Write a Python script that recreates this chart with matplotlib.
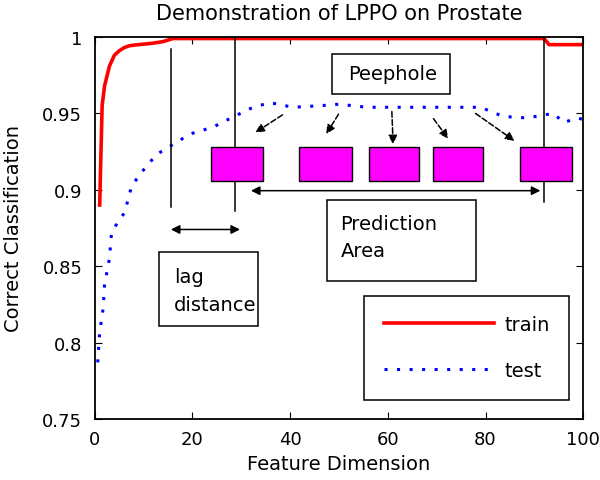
import matplotlib.pyplot as plt
from matplotlib.patches import Rectangle

# train curve
train_x = [1, 1.5, 2, 3, 4, 5, 6, 7, 8, 10, 12, 14, 16, 92, 93, 100]
train_y = [0.89, 0.955, 0.968, 0.981, 0.988, 0.991, 0.993, 0.9942, 0.9947, 0.9953, 0.996, 0.997, 0.999,
           0.999, 0.995, 0.995]

# test curve
test_x = [0.6, 1, 1.7, 2, 3, 3.4, 4.7, 6.1, 6.8, 7.5, 9.2, 12.6, 16.7, 19.5, 24.2, 28.3, 32.4, 35.9,
          40.6, 46, 50, 55.7, 61, 66.6, 74, 79, 83.6, 88.5, 93.9, 96, 98.8, 100]
test_y = [0.787, 0.807, 0.822, 0.838, 0.855, 0.871, 0.879, 0.885, 0.8935, 0.902, 0.910, 0.923, 0.931,
          0.9365, 0.941, 0.9476, 0.954, 0.957, 0.954, 0.955, 0.956, 0.954, 0.954, 0.954, 0.954, 0.954,
          0.948, 0.947, 0.950, 0.944, 0.947, 0.946]

# annotation geometry in data units
vlines = [(15.7, 0.889, 0.992), (28.8, 0.886, 1.0), (92, 0.892, 1.0)]
peep_boxes = [(23.7, 34.4), (41.8, 52.7), (56.1, 66.4), (69.2, 79.4), (87.1, 97.7)]
peep_arrows = [((38.9, 0.950), (32.4, 0.9365)), ((50.2, 0.951), (47.1, 0.935)),
               ((60.8, 0.953), (61.1, 0.928)), ((69, 0.948), (72.7, 0.932)),
               ((77.5, 0.951), (86.4, 0.931))]


def main():
    plt.rcParams['font.family'] = ['DejaVu Sans']
    fig = plt.figure(figsize=(6, 4.81), dpi=100)
    ax = fig.add_axes([0.158, 0.127, 0.814, 0.794])

    ax.plot(train_x, train_y, color="red", linewidth=2.6, label="train")
    ax.plot(test_x, test_y, color="blue", linewidth=2.2, dashes=(1.0, 3.1), label="test")

    for x, y0, y1 in vlines:
        ax.plot([x, x], [y0, y1], color="black", linewidth=1.1)

    for x0, x1 in peep_boxes:
        ax.add_patch(Rectangle((x0, 0.906), x1 - x0, 0.022, facecolor="magenta",
                               edgecolor="black", linewidth=1, zorder=3))

    for (sx, sy), (ex, ey) in peep_arrows:
        ax.annotate("", xy=(ex, ey), xytext=(sx, sy),
                    arrowprops=dict(arrowstyle="-|>", linestyle="--", color="black",
                                    linewidth=1.1, mutation_scale=13), zorder=4)

    # double arrows
    ax.annotate("", xy=(31.4, 0.8994), xytext=(91.8, 0.8994),
                arrowprops=dict(arrowstyle="<|-|>", color="black", linewidth=1.1, mutation_scale=13))
    ax.annotate("", xy=(15, 0.874), xytext=(30.3, 0.874),
                arrowprops=dict(arrowstyle="<|-|>", color="black", linewidth=1.1, mutation_scale=13))

    # text boxes
    ax.add_patch(Rectangle((48.5, 0.963), 24.2, 0.026, facecolor="white", edgecolor="black",
                           linewidth=1.1, zorder=3))
    ax.text(61, 0.976, "Peephole", ha="center", va="center", fontsize=14, zorder=4)

    ax.add_patch(Rectangle((13.1, 0.811), 20.3, 0.0485, facecolor="white", edgecolor="black",
                           linewidth=1.1, zorder=3))
    ax.text(16.2, 0.834, "lag\ndistance", ha="left", va="center", fontsize=14,
            linespacing=1.55, zorder=4)

    ax.add_patch(Rectangle((47.5, 0.840), 30.5, 0.0535, facecolor="white", edgecolor="black",
                           linewidth=1.1, zorder=3))
    ax.text(50.3, 0.869, "Prediction\nArea", ha="left", va="center", fontsize=14,
            linespacing=1.55, zorder=4)

    leg = ax.legend(loc="lower right", bbox_to_anchor=(0.971, 0.0505), fontsize=14,
                    handlelength=5.7, labelspacing=1.4, borderpad=1.0, handletextpad=0.5,
                    borderaxespad=0, fancybox=False, framealpha=1, edgecolor="black")
    leg.get_frame().set_linewidth(1.1)

    ax.set_xlim(0, 100)
    ax.set_ylim(0.75, 1.0)
    ax.set_xticks([0, 20, 40, 60, 80, 100])
    ax.set_yticks([0.75, 0.8, 0.85, 0.9, 0.95, 1.0])
    ax.set_yticklabels(["0.75", "0.8", "0.85", "0.9", "0.95", "1"])
    ax.tick_params(direction="in", top=True, right=True, labelsize=13, length=5)
    ax.tick_params(axis="x", pad=8)
    ax.tick_params(axis="y", pad=9)
    for s in ax.spines.values():
        s.set_linewidth(1.3)

    ax.set_xlabel("Feature Dimension", fontsize=14, labelpad=4)
    ax.set_ylabel("Correct Classification", fontsize=14, labelpad=14)
    ax.set_title("Demonstration of LPPO on Prostate", fontsize=15, pad=13)

    fig.savefig("out.png", dpi=100)


if __name__ == "__main__":
    main()
